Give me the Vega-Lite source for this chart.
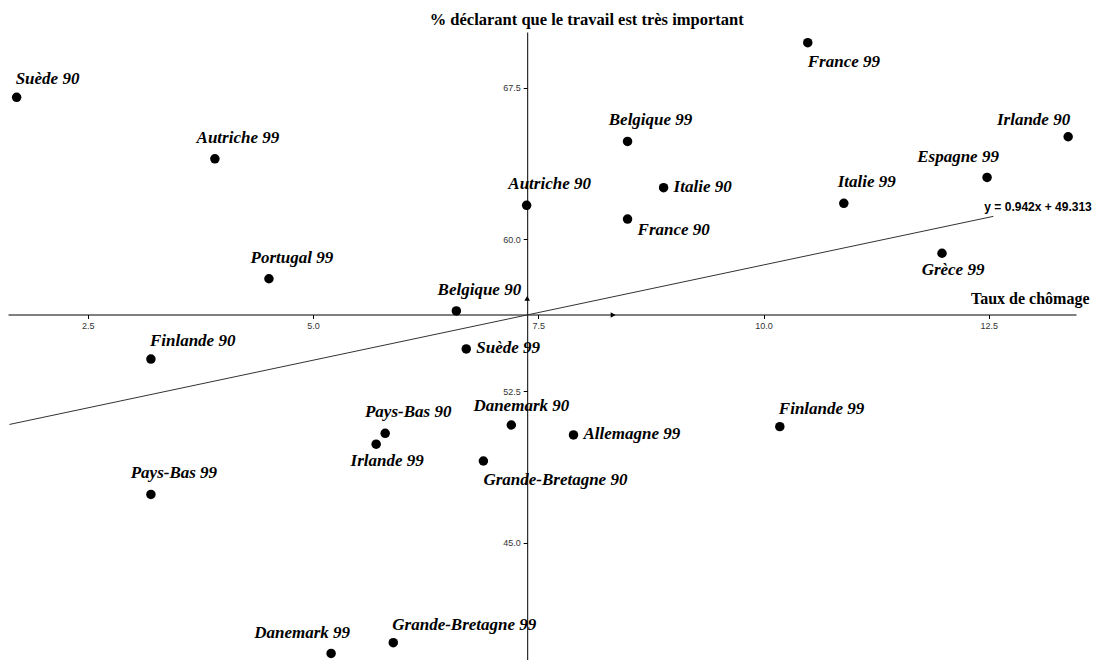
{
  "$schema": "https://vega.github.io/schema/vega-lite/v6.json",
  "width": 1068,
  "height": 628,
  "autosize": {"type": "none"},
  "padding": {"left": 8, "top": 32, "right": 25, "bottom": 0},
  "background": "white",
  "config": {"view": {"stroke": null}},
  "datasets": {
    "pays": [
      {"pays": "Suède 90", "chomage": 1.71, "travail": 67.02, "place": "NE"},
      {"pays": "Autriche 99", "chomage": 3.91, "travail": 63.98, "place": "N"},
      {"pays": "Portugal 99", "chomage": 4.51, "travail": 58.05, "place": "N"},
      {"pays": "Belgique 90", "chomage": 6.59, "travail": 56.46, "place": "N"},
      {"pays": "Finlande 90", "chomage": 3.20, "travail": 54.08, "place": "NE"},
      {"pays": "Suède 99", "chomage": 6.70, "travail": 54.58, "place": "E"},
      {"pays": "Pays-Bas 90", "chomage": 5.80, "travail": 50.41, "place": "N"},
      {"pays": "Irlande 99", "chomage": 5.70, "travail": 49.87, "place": "S"},
      {"pays": "Pays-Bas 99", "chomage": 3.20, "travail": 47.39, "place": "N"},
      {"pays": "Danemark 90", "chomage": 7.20, "travail": 50.82, "place": "N0"},
      {"pays": "Grande-Bretagne 90", "chomage": 6.89, "travail": 49.04, "place": "SE"},
      {"pays": "Danemark 99", "chomage": 5.20, "travail": 39.53, "place": "NW"},
      {"pays": "Grande-Bretagne 99", "chomage": 5.89, "travail": 40.06, "place": "NE"},
      {"pays": "Belgique 99", "chomage": 8.49, "travail": 64.84, "place": "N"},
      {"pays": "Autriche 90", "chomage": 7.37, "travail": 61.68, "place": "N"},
      {"pays": "Italie 90", "chomage": 8.89, "travail": 62.55, "place": "E"},
      {"pays": "France 90", "chomage": 8.49, "travail": 61.00, "place": "SE2"},
      {"pays": "France 99", "chomage": 10.49, "travail": 69.72, "place": "SE"},
      {"pays": "Irlande 90", "chomage": 13.38, "travail": 65.07, "place": "W"},
      {"pays": "Espagne 99", "chomage": 12.48, "travail": 63.06, "place": "NW"},
      {"pays": "Italie 99", "chomage": 10.89, "travail": 61.78, "place": "N"},
      {"pays": "Grèce 99", "chomage": 11.98, "travail": 59.31, "place": "S"},
      {"pays": "Allemagne 99", "chomage": 7.89, "travail": 50.33, "place": "E"},
      {"pays": "Finlande 99", "chomage": 10.18, "travail": 50.74, "place": "NE"}
    ],
    "regression": [
      {"chomage": 1.63, "travail": 50.848},
      {"chomage": 12.55, "travail": 61.135}
    ],
    "fleches": [
      {"chomage": 7.376, "travail": 57.08, "sens": "haut"},
      {"chomage": 8.33, "travail": 56.26, "sens": "droite"}
    ],
    "equation": [
      {"chomage": 12.45, "travail": 61.41, "texte": "y = 0.942x + 49.313"}
    ]
  },
  "layer": [
    {
      "data": {"name": "regression"},
      "mark": {"type": "line", "color": "#333333", "strokeWidth": 1},
      "encoding": {
        "x": {
          "field": "chomage", "type": "quantitative",
          "scale": {"domain": [1.614, 13.467], "nice": false, "zero": false},
          "axis": {
            "orient": "bottom", "offset": -345.5,
            "values": [2.5, 5, 7.5, 10, 12.5], "format": ".1f",
            "grid": false, "labelFlush": false,
            "domainColor": "black", "tickColor": "black", "tickSize": 4,
            "labelFont": "Liberation Sans", "labelFontSize": 9, "labelColor": "#333333", "labelPadding": 3,
            "title": "Taux de chômage",
            "titleFont": "Liberation Serif", "titleFontSize": 16, "titleFontWeight": "bold", "titleColor": "black",
            "titleX": 1081, "titleY": -11, "titleAlign": "right", "titleBaseline": "alphabetic", "titleAnchor": "end"
          }
        },
        "y": {
          "field": "travail", "type": "quantitative",
          "scale": {"domain": [39.204, 70.247], "nice": false, "zero": false},
          "axis": {
            "orient": "left", "offset": -519.2,
            "values": [45, 52.5, 60, 67.5], "format": ".1f",
            "grid": false, "labelFlush": false,
            "domainColor": "black", "tickColor": "black", "tickSize": 4,
            "labelFont": "Liberation Sans", "labelFontSize": 9, "labelColor": "#333333", "labelPadding": 3,
            "title": "% déclarant que le travail est très important",
            "titleFont": "Liberation Serif", "titleFontSize": 16.5, "titleFontWeight": "bold", "titleColor": "black",
            "titleAngle": 0, "titleX": 59, "titleY": -8, "titleAlign": "center", "titleBaseline": "alphabetic"
          }
        }
      }
    },
    {
      "data": {"name": "pays"},
      "mark": {"type": "circle", "color": "black", "opacity": 1, "size": 90},
      "encoding": {
        "x": {"field": "chomage", "type": "quantitative"},
        "y": {"field": "travail", "type": "quantitative"}
      }
    },
    {
      "data": {"name": "fleches"},
      "mark": {"type": "point", "filled": true, "color": "black", "opacity": 1, "size": 32},
      "encoding": {
        "x": {"field": "chomage", "type": "quantitative"},
        "y": {"field": "travail", "type": "quantitative"},
        "shape": {"field": "sens", "type": "nominal", "scale": {"domain": ["haut", "droite"], "range": ["triangle-up", "triangle-right"]}, "legend": null}
      }
    },
    {
      "data": {"name": "equation"},
      "mark": {"type": "text", "align": "left", "baseline": "alphabetic", "font": "Liberation Sans", "fontSize": 12, "fontWeight": "bold", "color": "black"},
      "encoding": {
        "x": {"field": "chomage", "type": "quantitative"},
        "y": {"field": "travail", "type": "quantitative"},
        "text": {"field": "texte"}
      }
    },
    {
      "data": {"name": "pays"},
      "transform": [{"filter": "datum.place == 'N'"}],
      "mark": {"type": "text", "align": "center", "baseline": "alphabetic", "dx": 23, "dy": -16, "font": "Liberation Serif", "fontSize": 17, "fontWeight": "bold", "fontStyle": "italic", "color": "black"},
      "encoding": {"x": {"field": "chomage", "type": "quantitative"}, "y": {"field": "travail", "type": "quantitative"}, "text": {"field": "pays"}}
    },
    {
      "data": {"name": "pays"},
      "transform": [{"filter": "datum.place == 'NW'"}],
      "mark": {"type": "text", "align": "center", "baseline": "alphabetic", "dx": -29, "dy": -15, "font": "Liberation Serif", "fontSize": 17, "fontWeight": "bold", "fontStyle": "italic", "color": "black"},
      "encoding": {"x": {"field": "chomage", "type": "quantitative"}, "y": {"field": "travail", "type": "quantitative"}, "text": {"field": "pays"}}
    },
    {
      "data": {"name": "pays"},
      "transform": [{"filter": "datum.place == 'N0'"}],
      "mark": {"type": "text", "align": "center", "baseline": "alphabetic", "dx": 10, "dy": -14, "font": "Liberation Serif", "fontSize": 17, "fontWeight": "bold", "fontStyle": "italic", "color": "black"},
      "encoding": {"x": {"field": "chomage", "type": "quantitative"}, "y": {"field": "travail", "type": "quantitative"}, "text": {"field": "pays"}}
    },
    {
      "data": {"name": "pays"},
      "transform": [{"filter": "datum.place == 'NE'"}],
      "mark": {"type": "text", "align": "left", "baseline": "alphabetic", "dx": -1, "dy": -13, "font": "Liberation Serif", "fontSize": 17, "fontWeight": "bold", "fontStyle": "italic", "color": "black"},
      "encoding": {"x": {"field": "chomage", "type": "quantitative"}, "y": {"field": "travail", "type": "quantitative"}, "text": {"field": "pays"}}
    },
    {
      "data": {"name": "pays"},
      "transform": [{"filter": "datum.place == 'E'"}],
      "mark": {"type": "text", "align": "left", "baseline": "alphabetic", "dx": 10, "dy": 4, "font": "Liberation Serif", "fontSize": 17, "fontWeight": "bold", "fontStyle": "italic", "color": "black"},
      "encoding": {"x": {"field": "chomage", "type": "quantitative"}, "y": {"field": "travail", "type": "quantitative"}, "text": {"field": "pays"}}
    },
    {
      "data": {"name": "pays"},
      "transform": [{"filter": "datum.place == 'S'"}],
      "mark": {"type": "text", "align": "center", "baseline": "alphabetic", "dx": 11, "dy": 22, "font": "Liberation Serif", "fontSize": 17, "fontWeight": "bold", "fontStyle": "italic", "color": "black"},
      "encoding": {"x": {"field": "chomage", "type": "quantitative"}, "y": {"field": "travail", "type": "quantitative"}, "text": {"field": "pays"}}
    },
    {
      "data": {"name": "pays"},
      "transform": [{"filter": "datum.place == 'SE'"}],
      "mark": {"type": "text", "align": "left", "baseline": "alphabetic", "dx": 0, "dy": 24, "font": "Liberation Serif", "fontSize": 17, "fontWeight": "bold", "fontStyle": "italic", "color": "black"},
      "encoding": {"x": {"field": "chomage", "type": "quantitative"}, "y": {"field": "travail", "type": "quantitative"}, "text": {"field": "pays"}}
    },
    {
      "data": {"name": "pays"},
      "transform": [{"filter": "datum.place == 'SE2'"}],
      "mark": {"type": "text", "align": "left", "baseline": "alphabetic", "dx": 10, "dy": 16, "font": "Liberation Serif", "fontSize": 17, "fontWeight": "bold", "fontStyle": "italic", "color": "black"},
      "encoding": {"x": {"field": "chomage", "type": "quantitative"}, "y": {"field": "travail", "type": "quantitative"}, "text": {"field": "pays"}}
    },
    {
      "data": {"name": "pays"},
      "transform": [{"filter": "datum.place == 'W'"}],
      "mark": {"type": "text", "align": "right", "baseline": "alphabetic", "dx": 2, "dy": -12, "font": "Liberation Serif", "fontSize": 17, "fontWeight": "bold", "fontStyle": "italic", "color": "black"},
      "encoding": {"x": {"field": "chomage", "type": "quantitative"}, "y": {"field": "travail", "type": "quantitative"}, "text": {"field": "pays"}}
    }
  ]
}
